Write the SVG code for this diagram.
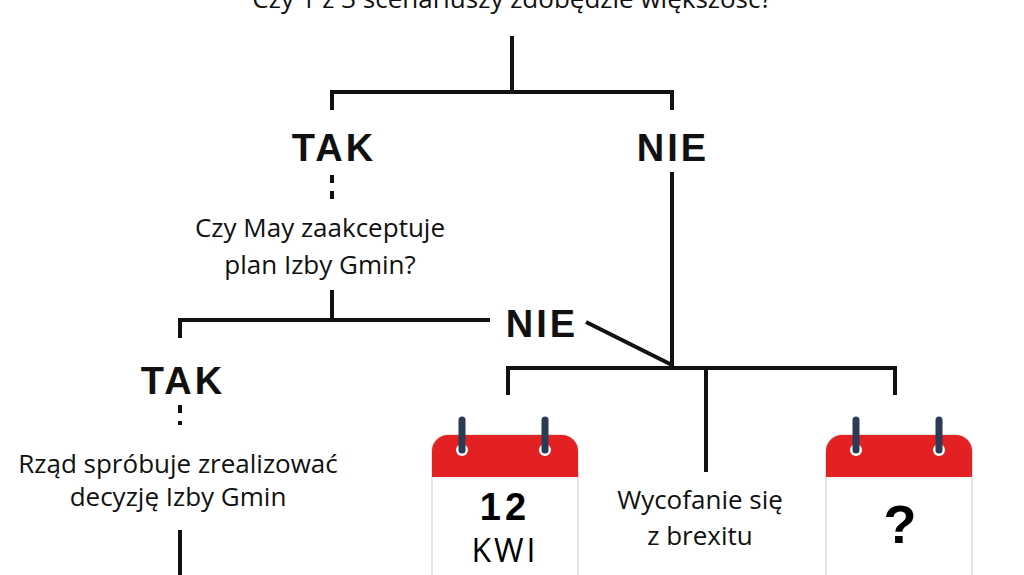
<svg xmlns="http://www.w3.org/2000/svg" width="1024" height="575" viewBox="0 0 1024 575">
<style>
.l{stroke:#111;stroke-width:4;fill:none}
.d{stroke:#111;stroke-width:4;stroke-dasharray:8 8;fill:none}
.t{font-family:"Open Sans","Liberation Sans",sans-serif;font-size:26px;fill:#111;text-anchor:middle}
.b{font-family:"Liberation Sans",sans-serif;font-weight:bold;font-size:38px;fill:#111;text-anchor:middle;letter-spacing:3px}
</style>
<defs>
<g id="cal">
<rect x="0" y="0" width="146" height="160" rx="16" fill="#fff" stroke="#ddd" stroke-width="1.5"/>
<path d="M16 0H130A16 16 0 0 1 146 16V42H0V16A16 16 0 0 1 16 0Z" fill="#e42122"/>
<circle cx="30" cy="15" r="6" fill="#fff"/><circle cx="113" cy="15" r="6" fill="#fff"/>
<line x1="30" y1="-15" x2="30" y2="15" stroke="#2b3a55" stroke-width="7" stroke-linecap="round"/>
<line x1="113" y1="-15" x2="113" y2="15" stroke="#2b3a55" stroke-width="7" stroke-linecap="round"/>
</g>
</defs>
<g id="connectors">
<path class="l" d="M512 36V92M332 110V92H672V110"/>
<path class="d" d="M332 175V200"/>
<path class="l" d="M332 290V320M180 338V320H490"/>
<path class="l" d="M586 322L672 365M672 172V368M508 395V368H895V395M706 368V472"/>
<path class="d" d="M180 405V425"/>
<path class="l" d="M180 530V575"/>
</g>
<g id="q1"><text class="t" x="512" y="8">Czy 1 z 3 scenariuszy zdobędzie większość?</text></g>
<g id="tak1"><text class="b" x="334" y="161">TAK</text></g>
<g id="nie1"><text class="b" x="673" y="161">NIE</text></g>
<g id="q2"><text class="t" x="320" y="237">Czy May zaakceptuje</text><text class="t" x="320" y="274">plan Izby Gmin?</text></g>
<g id="nie2"><text class="b" x="542" y="337">NIE</text></g>
<g id="tak2"><text class="b" x="183" y="394">TAK</text></g>
<g id="r1"><text class="t" x="178" y="473">Rząd spróbuje zrealizować</text><text class="t" x="178" y="506">decyzję Izby Gmin</text></g>
<g id="cal1"><use href="#cal" x="432" y="435"/><text x="505" y="520" font-family="Liberation Sans,sans-serif" font-weight="bold" font-size="38" text-anchor="middle" letter-spacing="4">12</text><text x="505" y="562" font-family="Open Sans,Liberation Sans,sans-serif" font-size="32" text-anchor="middle" letter-spacing="3">KWI</text></g>
<g id="r2"><text class="t" x="700" y="509">Wycofanie się</text><text class="t" x="700" y="545">z brexitu</text></g>
<g id="cal2"><use href="#cal" x="826" y="435"/><text x="900" y="543" font-family="Liberation Sans,sans-serif" font-weight="bold" font-size="54" text-anchor="middle">?</text></g>
</svg>
